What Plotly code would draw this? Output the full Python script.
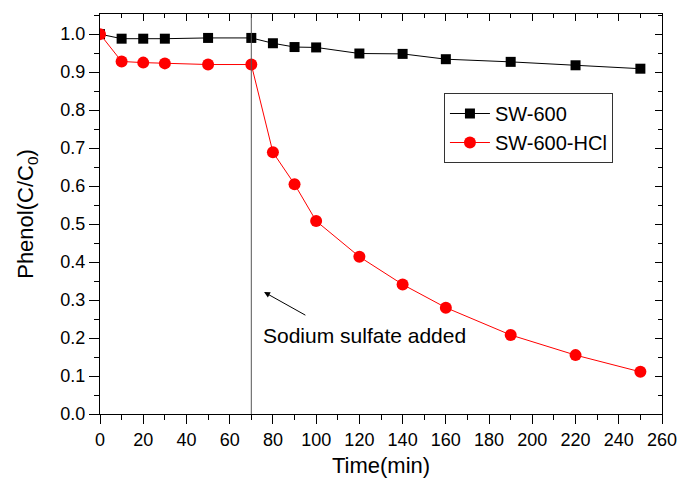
import plotly.graph_objects as go

time_sw = [0, 10, 20, 30, 50, 70, 80, 90, 100, 120, 140, 160, 190, 220, 250]
sw600 = [1.0, 0.988, 0.988, 0.988, 0.990, 0.990, 0.976, 0.966, 0.965, 0.949, 0.948, 0.934, 0.927, 0.918, 0.909]
time_hcl = [0, 10, 20, 30, 50, 70, 80, 90, 100, 120, 140, 160, 190, 220, 250]
sw600_hcl = [1.0, 0.928, 0.925, 0.923, 0.920, 0.920, 0.689, 0.605, 0.508, 0.414, 0.341, 0.280, 0.208, 0.155, 0.111]
added_time = 70

FONT = "Liberation Sans, Arial, sans-serif"

fig = go.Figure()
fig.add_trace(go.Scatter(x=time_sw, y=sw600, mode="lines+markers", name="SW-600",
                         line=dict(color="black", width=1),
                         marker=dict(symbol="square", size=10, color="black")))
fig.add_trace(go.Scatter(x=time_hcl, y=sw600_hcl, mode="lines+markers", name="SW-600-HCl",
                         line=dict(color="red", width=1),
                         marker=dict(symbol="circle", size=12, color="red")))

fig.add_shape(type="line", xref="x", yref="paper", x0=added_time, x1=added_time, y0=0, y1=1,
              line=dict(color="#555555", width=1))

fig.add_annotation(x=75.9, y=0.321, ax=95.7, ay=0.258, xref="x", yref="y", axref="x", ayref="y",
                   text="", showarrow=True, arrowhead=2, arrowsize=1.2, arrowwidth=1, arrowcolor="black")
fig.add_annotation(x=74.6, y=0.206, xref="x", yref="y", text="Sodium sulfate added", showarrow=False,
                   xanchor="left", yanchor="middle", font=dict(family=FONT, size=21, color="black"))

axis_common = dict(showline=True, linecolor="black", linewidth=1, showgrid=False, zeroline=False,
                   tickcolor="black", tickwidth=1, automargin=False,
                   tickfont=dict(family=FONT, size=18, color="black"))

fig.update_layout(
    width=678, height=481,
    margin=dict(l=100, r=16, t=14, b=67),
    paper_bgcolor="white", plot_bgcolor="white",
    font=dict(family=FONT, color="black"),
    xaxis=dict(range=[0, 260], tickmode="linear", tick0=0, dtick=20, ticks="outside", ticklen=9,
               ticklabeloverflow="allow",
               minor=dict(dtick=10, ticks="outside", ticklen=5, tickcolor="black"),
               title=dict(text="Time(min)", font=dict(family=FONT, size=22), standoff=9),
               **axis_common),
    yaxis=dict(range=[0, 1.053], tickmode="linear", tick0=0, dtick=0.1, tickformat=".1f", ticks="outside",
               ticklen=10,
               minor=dict(dtick=0.05, ticks="outside", ticklen=5, tickcolor="black"),
               title=dict(text="Phenol(C/C<sub>0</sub>)", font=dict(family=FONT, size=22), standoff=20),
               **axis_common),
    xaxis2=dict(range=[0, 260], overlaying="x", side="top", tickmode="linear", tick0=0, dtick=20,
                ticks="inside", ticklen=7, showticklabels=False,
                minor=dict(dtick=10, ticks="inside", ticklen=4, tickcolor="black"), **axis_common),
    yaxis2=dict(range=[0, 1.053], overlaying="y", side="right", tickmode="linear", tick0=0, dtick=0.1,
                ticks="inside", ticklen=7, showticklabels=False,
                minor=dict(dtick=0.05, ticks="inside", ticklen=4, tickcolor="black"), **axis_common),
    legend=dict(x=0.612, y=0.715, xanchor="left", yanchor="middle", bgcolor="white",
                bordercolor="#333333", borderwidth=1, font=dict(family=FONT, size=20),
                tracegroupgap=0, itemwidth=40),
    showlegend=True,
)
fig.add_trace(go.Scatter(x=[None], y=[None], xaxis="x2", yaxis="y2", showlegend=False, hoverinfo="skip"))

fig.write_html("out.html")
